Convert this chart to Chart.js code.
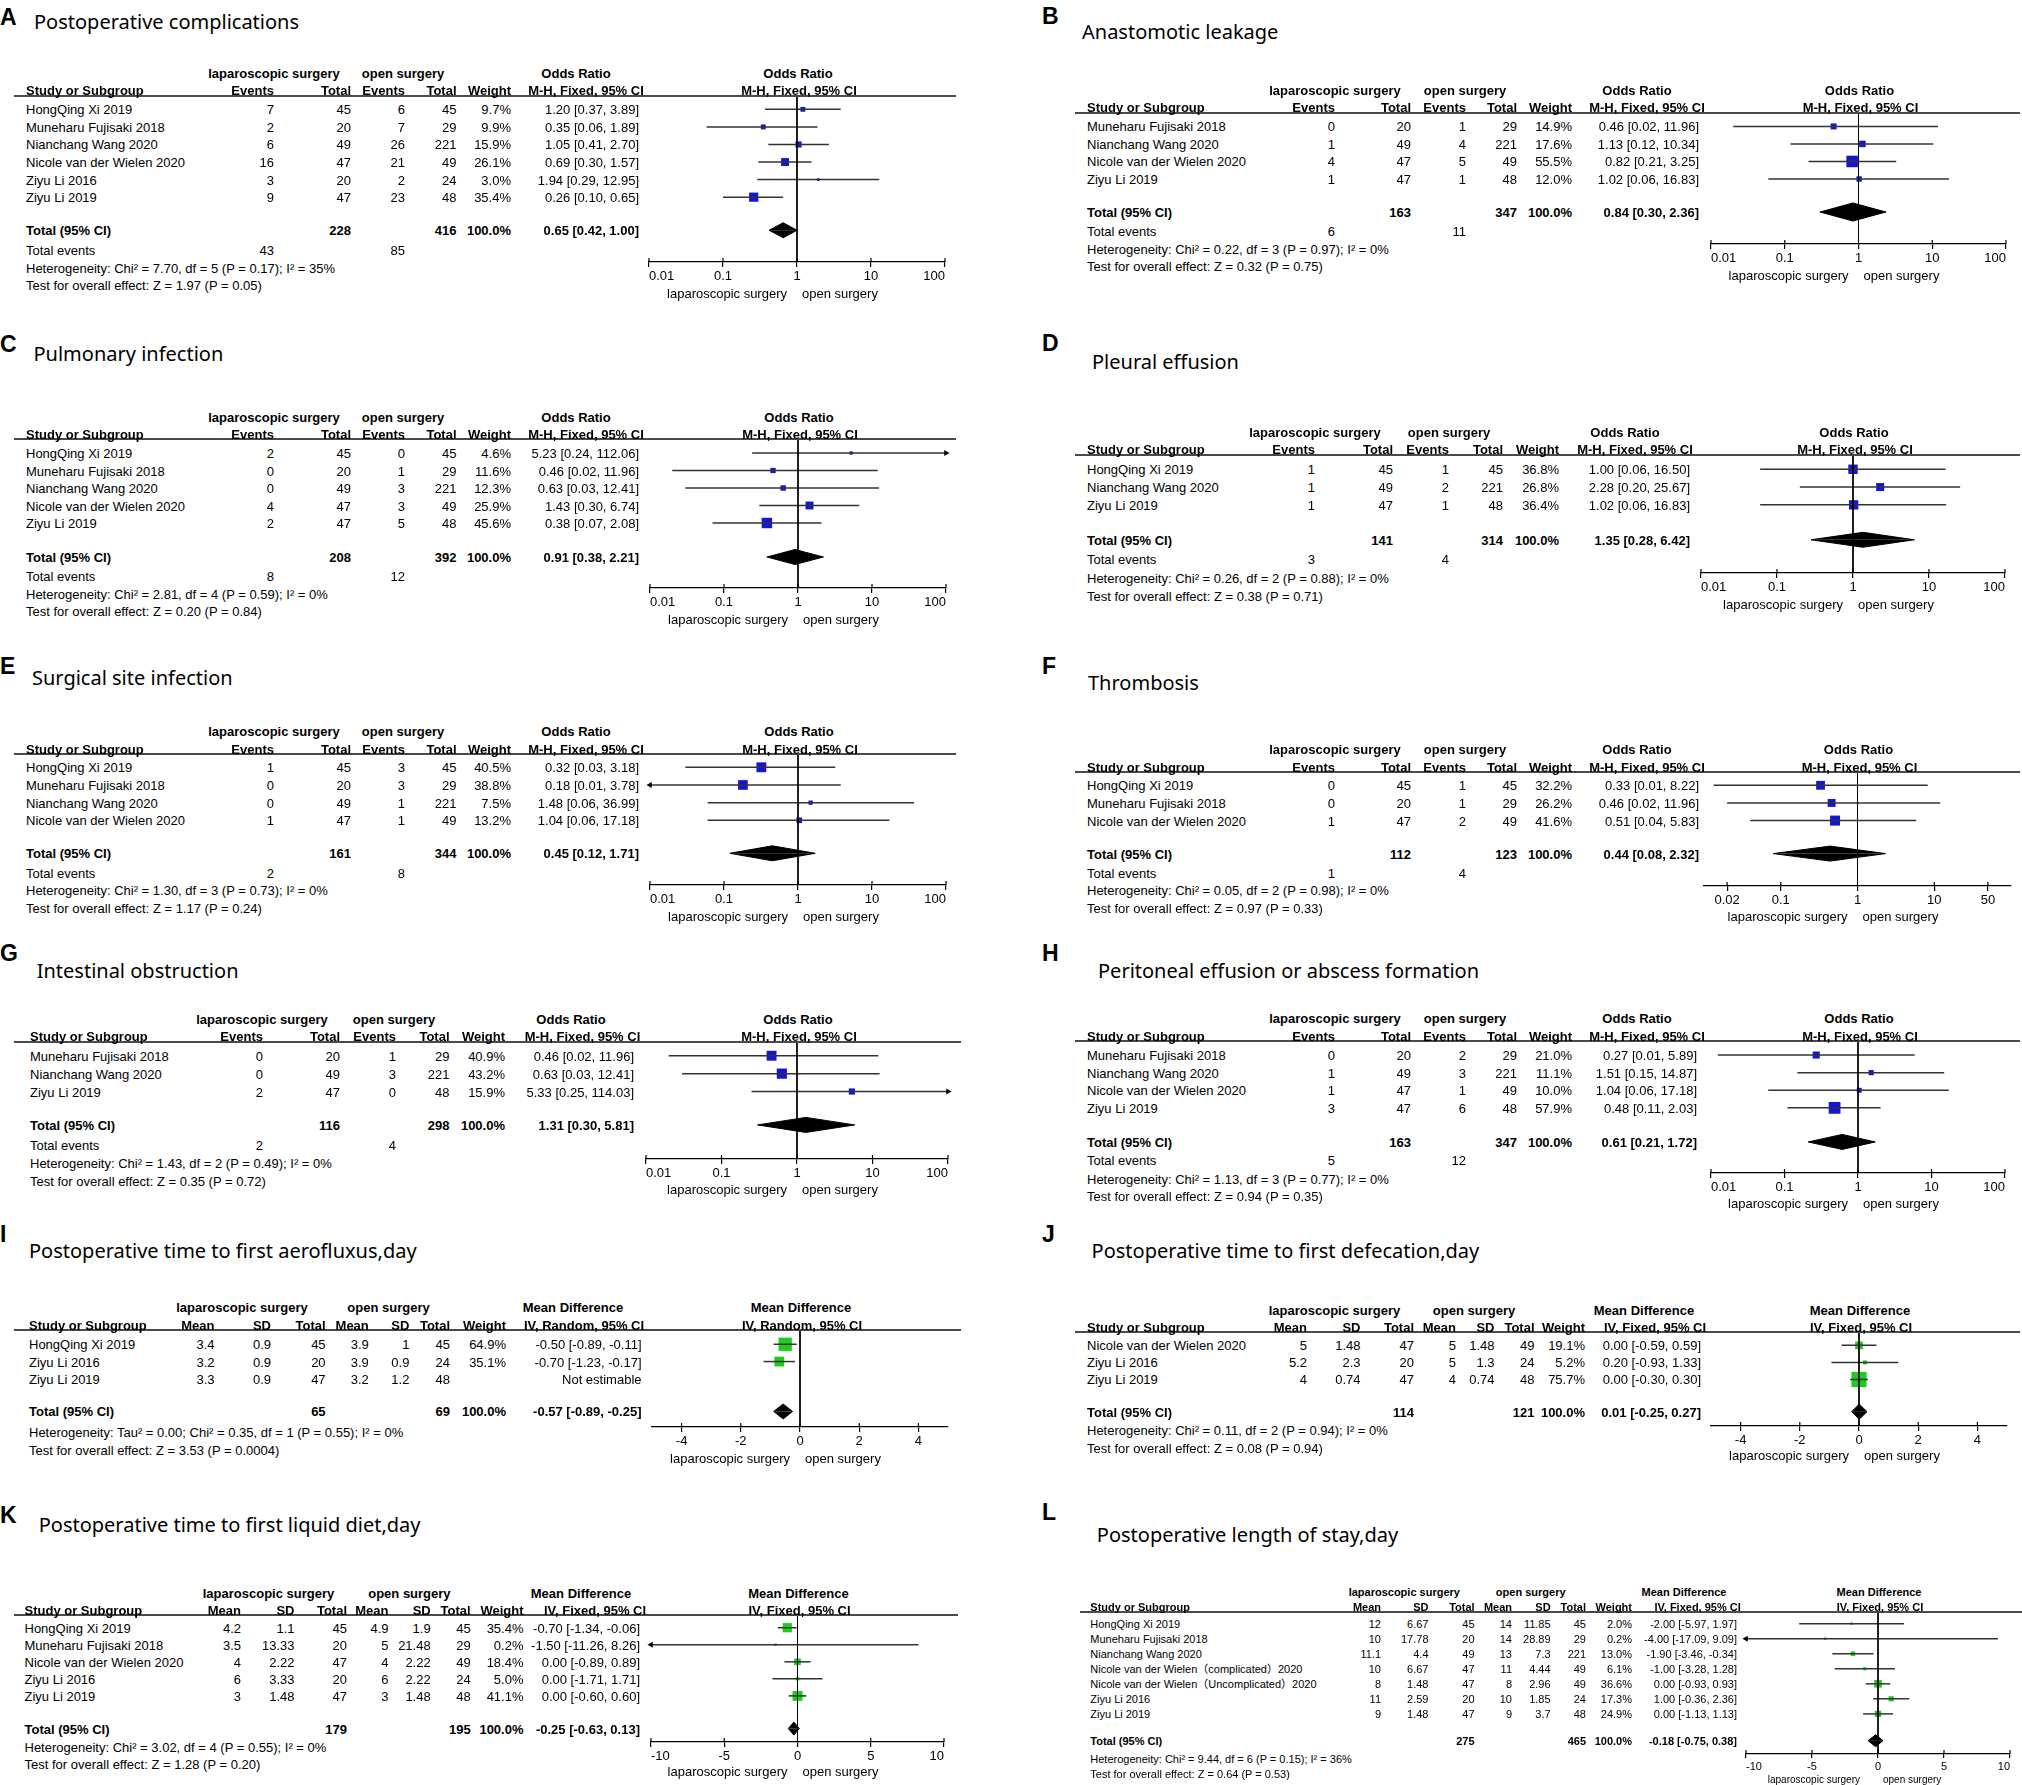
<!DOCTYPE html>
<html><head><meta charset="utf-8">
<script src="https://cdn.jsdelivr.net/npm/chart.js@4.4.0/dist/chart.umd.min.js"></script>
<style>
html,body{margin:0;padding:0;background:#fff;}
#page{position:relative;width:2022px;height:1785px;overflow:hidden;background:#fff;font-family:"Liberation Sans",Arial,"Noto Sans CJK SC",sans-serif;color:#000;}
.t{position:absolute;white-space:nowrap;line-height:1;}
.l{transform:translate(0,-50%);} .r{transform:translate(-100%,-50%);} .c{transform:translate(-50%,-50%);}
canvas{position:absolute;}
.hl{position:absolute;height:2px;background:#4a4a4a;}
</style></head>
<body><div id="page"></div>
<script>
// ================= DATA =================
const OR_ticks = [0.01, 0.1, 1, 10, 100];
const OR_tickLabels = ["0.01", "0.1", "1", "10", "100"];
const F_ticks = [0.02, 0.1, 1, 10, 50];
const F_tickLabels = ["0.02", "0.1", "1", "10", "50"];
const MD5_ticks = [-4, -2, 0, 2, 4];
const MD5_tickLabels = ["-4", "-2", "0", "2", "4"];
const MD10_ticks = [-10, -5, 0, 5, 10];
const MD10_tickLabels = ["-10", "-5", "0", "5", "10"];

// A Postoperative complications
const A_studies = ["HongQing Xi 2019","Muneharu Fujisaki 2018","Nianchang Wang 2020","Nicole van der Wielen 2020","Ziyu Li 2016","Ziyu Li 2019"];
const A_lapEvents = [7,2,6,16,3,9];
const A_lapTotal = [45,20,49,47,20,47];
const A_openEvents = [6,7,26,21,2,23];
const A_openTotal = [45,29,221,49,24,48];
const A_weight = [9.7,9.9,15.9,26.1,3.0,35.4];
const A_or = [1.20,0.35,1.05,0.69,1.94,0.26];
const A_lo = [0.37,0.06,0.41,0.30,0.29,0.10];
const A_hi = [3.89,1.89,2.70,1.57,12.95,0.65];
const A_totals = [228,416];
const A_totalEvents = [43,85];
const A_pooled = [0.65,0.42,1.00];
const A_het = "Heterogeneity: Chi² = 7.70, df = 5 (P = 0.17); I² = 35%";
const A_test = "Test for overall effect: Z = 1.97 (P = 0.05)";

// B Anastomotic leakage
const B_studies = ["Muneharu Fujisaki 2018","Nianchang Wang 2020","Nicole van der Wielen 2020","Ziyu Li 2019"];
const B_lapEvents = [0,1,4,1];
const B_lapTotal = [20,49,47,47];
const B_openEvents = [1,4,5,1];
const B_openTotal = [29,221,49,48];
const B_weight = [14.9,17.6,55.5,12.0];
const B_or = [0.46,1.13,0.82,1.02];
const B_lo = [0.02,0.12,0.21,0.06];
const B_hi = [11.96,10.34,3.25,16.83];
const B_totals = [163,347];
const B_totalEvents = [6,11];
const B_pooled = [0.84,0.30,2.36];
const B_het = "Heterogeneity: Chi² = 0.22, df = 3 (P = 0.97); I² = 0%";
const B_test = "Test for overall effect: Z = 0.32 (P = 0.75)";

// C Pulmonary infection
const C_studies = ["HongQing Xi 2019","Muneharu Fujisaki 2018","Nianchang Wang 2020","Nicole van der Wielen 2020","Ziyu Li 2019"];
const C_lapEvents = [2,0,0,4,2];
const C_lapTotal = [45,20,49,47,47];
const C_openEvents = [0,1,3,3,5];
const C_openTotal = [45,29,221,49,48];
const C_weight = [4.6,11.6,12.3,25.9,45.6];
const C_or = [5.23,0.46,0.63,1.43,0.38];
const C_lo = [0.24,0.02,0.03,0.30,0.07];
const C_hi = [112.06,11.96,12.41,6.74,2.08];
const C_totals = [208,392];
const C_totalEvents = [8,12];
const C_pooled = [0.91,0.38,2.21];
const C_het = "Heterogeneity: Chi² = 2.81, df = 4 (P = 0.59); I² = 0%";
const C_test = "Test for overall effect: Z = 0.20 (P = 0.84)";

// D Pleural effusion
const D_studies = ["HongQing Xi 2019","Nianchang Wang 2020","Ziyu Li 2019"];
const D_lapEvents = [1,1,1];
const D_lapTotal = [45,49,47];
const D_openEvents = [1,2,1];
const D_openTotal = [45,221,48];
const D_weight = [36.8,26.8,36.4];
const D_or = [1.00,2.28,1.02];
const D_lo = [0.06,0.20,0.06];
const D_hi = [16.50,25.67,16.83];
const D_totals = [141,314];
const D_totalEvents = [3,4];
const D_pooled = [1.35,0.28,6.42];
const D_het = "Heterogeneity: Chi² = 0.26, df = 2 (P = 0.88); I² = 0%";
const D_test = "Test for overall effect: Z = 0.38 (P = 0.71)";

// E Surgical site infection
const E_studies = ["HongQing Xi 2019","Muneharu Fujisaki 2018","Nianchang Wang 2020","Nicole van der Wielen 2020"];
const E_lapEvents = [1,0,0,1];
const E_lapTotal = [45,20,49,47];
const E_openEvents = [3,3,1,1];
const E_openTotal = [45,29,221,49];
const E_weight = [40.5,38.8,7.5,13.2];
const E_or = [0.32,0.18,1.48,1.04];
const E_lo = [0.03,0.0086,0.06,0.06];
const E_hi = [3.18,3.78,36.99,17.18];
const E_totals = [161,344];
const E_totalEvents = [2,8];
const E_pooled = [0.45,0.12,1.71];
const E_het = "Heterogeneity: Chi² = 1.30, df = 3 (P = 0.73); I² = 0%";
const E_test = "Test for overall effect: Z = 1.17 (P = 0.24)";

// F Thrombosis
const F_studies = ["HongQing Xi 2019","Muneharu Fujisaki 2018","Nicole van der Wielen 2020"];
const F_lapEvents = [0,0,1];
const F_lapTotal = [45,20,47];
const F_openEvents = [1,1,2];
const F_openTotal = [45,29,49];
const F_weight = [32.2,26.2,41.6];
const F_or = [0.33,0.46,0.51];
const F_lo = [0.0133,0.02,0.04];
const F_hi = [8.22,11.96,5.83];
const F_totals = [112,123];
const F_totalEvents = [1,4];
const F_pooled = [0.44,0.08,2.32];
const F_het = "Heterogeneity: Chi² = 0.05, df = 2 (P = 0.98); I² = 0%";
const F_test = "Test for overall effect: Z = 0.97 (P = 0.33)";

// G Intestinal obstruction
const G_studies = ["Muneharu Fujisaki 2018","Nianchang Wang 2020","Ziyu Li 2019"];
const G_lapEvents = [0,0,2];
const G_lapTotal = [20,49,47];
const G_openEvents = [1,3,0];
const G_openTotal = [29,221,48];
const G_weight = [40.9,43.2,15.9];
const G_or = [0.46,0.63,5.33];
const G_lo = [0.02,0.03,0.25];
const G_hi = [11.96,12.41,114.03];
const G_totals = [116,298];
const G_totalEvents = [2,4];
const G_pooled = [1.31,0.30,5.81];
const G_het = "Heterogeneity: Chi² = 1.43, df = 2 (P = 0.49); I² = 0%";
const G_test = "Test for overall effect: Z = 0.35 (P = 0.72)";

// H Peritoneal effusion or abscess formation
const H_studies = ["Muneharu Fujisaki 2018","Nianchang Wang 2020","Nicole van der Wielen 2020","Ziyu Li 2019"];
const H_lapEvents = [0,1,1,3];
const H_lapTotal = [20,49,47,47];
const H_openEvents = [2,3,1,6];
const H_openTotal = [29,221,49,48];
const H_weight = [21.0,11.1,10.0,57.9];
const H_or = [0.27,1.51,1.04,0.48];
const H_lo = [0.0124,0.15,0.06,0.11];
const H_hi = [5.89,14.87,17.18,2.03];
const H_totals = [163,347];
const H_totalEvents = [5,12];
const H_pooled = [0.61,0.21,1.72];
const H_het = "Heterogeneity: Chi² = 1.13, df = 3 (P = 0.77); I² = 0%";
const H_test = "Test for overall effect: Z = 0.94 (P = 0.35)";

// I Postoperative time to first aerofluxus
const I_studies = ["HongQing Xi 2019","Ziyu Li 2016","Ziyu Li 2019"];
const I_lapMean = [3.4,3.2,3.3];
const I_lapSD = [0.9,0.9,0.9];
const I_lapTotal = [45,20,47];
const I_openMean = [3.9,3.9,3.2];
const I_openSD = [1,0.9,1.2];
const I_openTotal = [45,24,48];
const I_weight = [64.9,35.1,null];
const I_md = [-0.50,-0.70,null];
const I_lo = [-0.89,-1.23,null];
const I_hi = [-0.11,-0.17,null];
const I_totals = [65,69];
const I_pooled = [-0.57,-0.89,-0.25];
const I_het = "Heterogeneity: Tau² = 0.00; Chi² = 0.35, df = 1 (P = 0.55); I² = 0%";
const I_test = "Test for overall effect: Z = 3.53 (P = 0.0004)";

// J Postoperative time to first defecation
const J_studies = ["Nicole van der Wielen 2020","Ziyu Li 2016","Ziyu Li 2019"];
const J_lapMean = [5,5.2,4];
const J_lapSD = [1.48,2.3,0.74];
const J_lapTotal = [47,20,47];
const J_openMean = [5,5,4];
const J_openSD = [1.48,1.3,0.74];
const J_openTotal = [49,24,48];
const J_weight = [19.1,5.2,75.7];
const J_md = [0.00,0.20,0.00];
const J_lo = [-0.59,-0.93,-0.30];
const J_hi = [0.59,1.33,0.30];
const J_totals = [114,121];
const J_pooled = [0.01,-0.25,0.27];
const J_het = "Heterogeneity: Chi² = 0.11, df = 2 (P = 0.94); I² = 0%";
const J_test = "Test for overall effect: Z = 0.08 (P = 0.94)";

// K Postoperative time to first liquid diet
const K_studies = ["HongQing Xi 2019","Muneharu Fujisaki 2018","Nicole van der Wielen 2020","Ziyu Li 2016","Ziyu Li 2019"];
const K_lapMean = [4.2,3.5,4,6,3];
const K_lapSD = [1.1,13.33,2.22,3.33,1.48];
const K_lapTotal = [45,20,47,20,47];
const K_openMean = [4.9,5,4,6,3];
const K_openSD = [1.9,21.48,2.22,2.22,1.48];
const K_openTotal = [45,29,49,24,48];
const K_weight = [35.4,0.2,18.4,5.0,41.1];
const K_md = [-0.70,-1.50,0.00,0.00,0.00];
const K_lo = [-1.34,-11.26,-0.89,-1.71,-0.60];
const K_hi = [-0.06,8.26,0.89,1.71,0.60];
const K_totals = [179,195];
const K_pooled = [-0.25,-0.63,0.13];
const K_het = "Heterogeneity: Chi² = 3.02, df = 4 (P = 0.55); I² = 0%";
const K_test = "Test for overall effect: Z = 1.28 (P = 0.20)";

// L Postoperative length of stay
const L_studies = ["HongQing Xi 2019","Muneharu Fujisaki 2018","Nianchang Wang 2020","Nicole van der Wielen（complicated）2020","Nicole van der Wielen（Uncomplicated）2020","Ziyu Li 2016","Ziyu Li 2019"];
const L_lapMean = [12,10,11.1,10,8,11,9];
const L_lapSD = [6.67,17.78,4.4,6.67,1.48,2.59,1.48];
const L_lapTotal = [45,20,49,47,47,20,47];
const L_openMean = [14,14,13,11,8,10,9];
const L_openSD = [11.85,28.89,7.3,4.44,2.96,1.85,3.7];
const L_openTotal = [45,29,221,49,49,24,48];
const L_weight = [2.0,0.2,13.0,6.1,36.6,17.3,24.9];
const L_md = [-2.00,-4.00,-1.90,-1.00,0.00,1.00,0.00];
const L_lo = [-5.97,-17.09,-3.46,-3.28,-0.93,-0.36,-1.13];
const L_hi = [1.97,9.09,-0.34,1.28,0.93,2.36,1.13];
const L_totals = [275,465];
const L_pooled = [-0.18,-0.75,0.38];
const L_het = "Heterogeneity: Chi² = 9.44, df = 6 (P = 0.15); I² = 36%";
const L_test = "Test for overall effect: Z = 0.64 (P = 0.53)";

// ================= LAYOUT =================
const layA = {studyX:26, colR:[274,351,405,456.5,511,639], lapC:274, openC:403, headC:576, subC:586, lineX0:14, lineX1:956};
const layB = {studyX:1087, colR:[1335,1411,1466,1517,1572,1699], lapC:1335, openC:1465, headC:1637, subC:1647, lineX0:1075, lineX1:2020};

const panels = [
 {letter:'A', title:'Postoperative complications', lx:0, ly:16.5, tx:34, ty:21.7, kind:'OR',
  studies:A_studies, cols:[A_lapEvents,A_lapTotal,A_openEvents,A_openTotal], weight:A_weight, est:A_or, lo:A_lo, hi:A_hi,
  totals:A_totals, totalEvents:A_totalEvents, pooled:A_pooled, het:A_het, test:A_test, method:'M-H, Fixed, 95% CI',
  xtype:'logarithmic', xmin:0.01, xmax:100, nullV:1, ticks:OR_ticks, tickLabels:OR_tickLabels, tickAlign:'inner',
  L:Object.assign({}, layA, {plotL:649, plotR:944.5, lineY:96, row0Y:109.3, pitch:17.54, totalY:230, teY:249.3, hetY:267.7, testY:285, axisY:261.7, h1Y:72.7, h2Y:90, labelY:292.3})},
 {letter:'B', title:'Anastomotic leakage', lx:1042, ly:15.5, tx:1082, ty:31.7, kind:'OR',
  studies:B_studies, cols:[B_lapEvents,B_lapTotal,B_openEvents,B_openTotal], weight:B_weight, est:B_or, lo:B_lo, hi:B_hi,
  totals:B_totals, totalEvents:B_totalEvents, pooled:B_pooled, het:B_het, test:B_test, method:'M-H, Fixed, 95% CI',
  xtype:'logarithmic', xmin:0.01, xmax:100, nullV:1, ticks:OR_ticks, tickLabels:OR_tickLabels, tickAlign:'inner',
  L:Object.assign({}, layB, {plotL:1710.5, plotR:2005.2, lineY:113.3, row0Y:126.7, pitch:17.53, totalY:212.3, teY:231.7, hetY:249.3, testY:266.7, axisY:244.3, h1Y:90, h2Y:107.3, labelY:275, dh:9})},
 {letter:'C', title:'Pulmonary infection', lx:0, ly:343.5, tx:33.5, ty:354, kind:'OR',
  studies:C_studies, cols:[C_lapEvents,C_lapTotal,C_openEvents,C_openTotal], weight:C_weight, est:C_or, lo:C_lo, hi:C_hi,
  totals:C_totals, totalEvents:C_totalEvents, pooled:C_pooled, het:C_het, test:C_test, method:'M-H, Fixed, 95% CI',
  xtype:'logarithmic', xmin:0.01, xmax:100, nullV:1, ticks:OR_ticks, tickLabels:OR_tickLabels, tickAlign:'inner',
  L:Object.assign({}, layA, {plotL:650, plotR:946, lineY:439.3, row0Y:453.3, pitch:17.5, totalY:557.3, teY:576, hetY:594, testY:611.7, axisY:588.3, h1Y:417.3, h2Y:434.7, labelY:619})},
 {letter:'D', title:'Pleural effusion', lx:1042, ly:342.5, tx:1092, ty:362.3, kind:'OR',
  studies:D_studies, cols:[D_lapEvents,D_lapTotal,D_openEvents,D_openTotal], weight:D_weight, est:D_or, lo:D_lo, hi:D_hi,
  totals:D_totals, totalEvents:D_totalEvents, pooled:D_pooled, het:D_het, test:D_test, method:'M-H, Fixed, 95% CI',
  xtype:'logarithmic', xmin:0.01, xmax:100, nullV:1, ticks:OR_ticks, tickLabels:OR_tickLabels, tickAlign:'inner',
  L:{studyX:1087, colR:[1315,1393,1449,1503,1559,1690], lapC:1315, openC:1449, headC:1625, subC:1635, lineX0:1075, lineX1:2020,
     plotL:1701, plotR:2005, lineY:455, row0Y:469.3, pitch:17.85, totalY:540, teY:559.3, hetY:578.3, testY:596, axisY:573.3, h1Y:431.7, h2Y:449.3, labelY:604}},
 {letter:'E', title:'Surgical site infection', lx:0, ly:665.5, tx:32, ty:678.3, kind:'OR',
  studies:E_studies, cols:[E_lapEvents,E_lapTotal,E_openEvents,E_openTotal], weight:E_weight, est:E_or, lo:E_lo, hi:E_hi,
  totals:E_totals, totalEvents:E_totalEvents, pooled:E_pooled, het:E_het, test:E_test, method:'M-H, Fixed, 95% CI',
  xtype:'logarithmic', xmin:0.01, xmax:100, nullV:1, ticks:OR_ticks, tickLabels:OR_tickLabels, tickAlign:'inner',
  L:Object.assign({}, layA, {plotL:650, plotR:946, lineY:754, row0Y:767.3, pitch:17.67, totalY:853.3, teY:872.7, hetY:890, testY:907.7, axisY:885, h1Y:731, h2Y:748.7, labelY:915.7})},
 {letter:'F', title:'Thrombosis', lx:1042, ly:665.5, tx:1088, ty:683.3, kind:'OR',
  studies:F_studies, cols:[F_lapEvents,F_lapTotal,F_openEvents,F_openTotal], weight:F_weight, est:F_or, lo:F_lo, hi:F_hi,
  totals:F_totals, totalEvents:F_totalEvents, pooled:F_pooled, het:F_het, test:F_test, method:'M-H, Fixed, 95% CI',
  xtype:'logarithmic', xmin:0.01, xmax:100, nullV:1, ticks:F_ticks, tickLabels:F_tickLabels, tickAlign:'center',
  L:Object.assign({}, layB, {plotL:1704, plotR:2011, lineY:771.7, row0Y:785, pitch:17.65, totalY:853.3, teY:872.7, hetY:890, testY:907.7, axisY:885.7, h1Y:749, h2Y:766.3, labelY:915.7})},
 {letter:'G', title:'Intestinal obstruction', lx:0, ly:953, tx:36.7, ty:970.7, kind:'OR',
  studies:G_studies, cols:[G_lapEvents,G_lapTotal,G_openEvents,G_openTotal], weight:G_weight, est:G_or, lo:G_lo, hi:G_hi,
  totals:G_totals, totalEvents:G_totalEvents, pooled:G_pooled, het:G_het, test:G_test, method:'M-H, Fixed, 95% CI',
  xtype:'logarithmic', xmin:0.01, xmax:100, nullV:1, ticks:OR_ticks, tickLabels:OR_tickLabels, tickAlign:'inner',
  L:{studyX:30, colR:[263,340,396,449.5,505,634], lapC:262, openC:394, headC:571, subC:582.5, lineX0:14, lineX1:961,
     plotL:646, plotR:948, lineY:1042.3, row0Y:1056, pitch:17.85, totalY:1125, teY:1145, hetY:1162.7, testY:1180.7, axisY:1159, h1Y:1019, h2Y:1036.7, labelY:1189}},
 {letter:'H', title:'Peritoneal effusion or abscess formation', lx:1042, ly:953, tx:1098, ty:970.7, kind:'OR',
  studies:H_studies, cols:[H_lapEvents,H_lapTotal,H_openEvents,H_openTotal], weight:H_weight, est:H_or, lo:H_lo, hi:H_hi,
  totals:H_totals, totalEvents:H_totalEvents, pooled:H_pooled, het:H_het, test:H_test, method:'M-H, Fixed, 95% CI',
  xtype:'logarithmic', xmin:0.01, xmax:100, nullV:1, ticks:OR_ticks, tickLabels:OR_tickLabels, tickAlign:'inner',
  L:Object.assign({}, layB, {colR:[1335,1411,1466,1517,1572,1697], plotL:1710.5, plotR:2004.5, lineY:1041, row0Y:1055, pitch:17.57, totalY:1141.7, teY:1160, hetY:1178.3, testY:1196, axisY:1172.7, h1Y:1018.3, h2Y:1036, labelY:1202.3})},
 {letter:'I', title:'Postoperative time to first aerofluxus,day', lx:0, ly:1234, tx:29, ty:1250.7, kind:'MD',
  studies:I_studies, cols:[I_lapMean,I_lapSD,I_lapTotal,I_openMean,I_openSD,I_openTotal], weight:I_weight, est:I_md, lo:I_lo, hi:I_hi,
  totals:I_totals, pooled:I_pooled, het:I_het, test:I_test, method:'IV, Random, 95% CI',
  xtype:'linear', xmin:-5, xmax:5, nullV:0, ticks:MD5_ticks, tickLabels:MD5_tickLabels, tickAlign:'center',
  L:{studyX:29, colR:[214.5,271,325.6,368.8,409.4,450,506,641.5], lapC:242, openC:388.5, headC:573, subC:584, lineX0:14, lineX1:961,
     plotL:651.5, plotR:947.5, lineY:1330, row0Y:1344.3, pitch:17.35, totalY:1411.7, hetY:1432.7, testY:1450, axisY:1427.3, h1Y:1307.3, h2Y:1325, labelY:1458.3, k:1.65}},
 {letter:'J', title:'Postoperative time to first defecation,day', lx:1042, ly:1234, tx:1091.6, ty:1250.7, kind:'MD',
  studies:J_studies, cols:[J_lapMean,J_lapSD,J_lapTotal,J_openMean,J_openSD,J_openTotal], weight:J_weight, est:J_md, lo:J_lo, hi:J_hi,
  totals:J_totals, pooled:J_pooled, het:J_het, test:J_test, method:'IV, Fixed, 95% CI',
  xtype:'linear', xmin:-5, xmax:5, nullV:0, ticks:MD5_ticks, tickLabels:MD5_tickLabels, tickAlign:'center',
  L:{studyX:1087, colR:[1307,1360.5,1414,1456,1494.5,1534.5,1585,1701], lapC:1334.5, openC:1474, headC:1644, subC:1655, lineX0:1075, lineX1:2020,
     plotL:1711, plotR:2007, lineY:1332.3, row0Y:1345.7, pitch:17.15, totalY:1412.3, hetY:1431, testY:1448.7, axisY:1426.7, h1Y:1310, h2Y:1327.3, labelY:1456, k:1.75}},
 {letter:'K', title:'Postoperative time to first liquid diet,day', lx:0, ly:1514.5, tx:38.7, ty:1525, kind:'MD',
  studies:K_studies, cols:[K_lapMean,K_lapSD,K_lapTotal,K_openMean,K_openSD,K_openTotal], weight:K_weight, est:K_md, lo:K_lo, hi:K_hi,
  totals:K_totals, pooled:K_pooled, het:K_het, test:K_test, method:'IV, Fixed, 95% CI',
  xtype:'linear', xmin:-10, xmax:10, nullV:0, ticks:MD10_ticks, tickLabels:MD10_tickLabels, tickAlign:'inner',
  L:{studyX:24.5, colR:[241,294.5,347,388.5,430.7,470.7,523.5,640], lapC:268.5, openC:409.4, headC:581, subC:595, lineX0:14, lineX1:958,
     plotL:651.2, plotR:944.5, lineY:1615, row0Y:1627.7, pitch:17, totalY:1728.3, hetY:1746.7, testY:1763.3, axisY:1741.7, h1Y:1593.3, h2Y:1610, labelY:1770.7, dh:6.5}},
 {letter:'L', title:'Postoperative length of stay,day', lx:1042, ly:1512, tx:1096.8, ty:1535, kind:'MD',
  studies:L_studies, cols:[L_lapMean,L_lapSD,L_lapTotal,L_openMean,L_openSD,L_openTotal], weight:L_weight, est:L_md, lo:L_lo, hi:L_hi,
  totals:L_totals, pooled:L_pooled, het:L_het, test:L_test, method:'IV, Fixed, 95% CI',
  xtype:'linear', xmin:-10, xmax:10, nullV:0, ticks:MD10_ticks, tickLabels:MD10_tickLabels, tickAlign:'inner',
  L:{studyX:1090.3, colR:[1381,1428.5,1474.6,1512,1550.6,1586,1632,1737], lapC:1404.3, openC:1530.7, headC:1684, subC:1697.6, lineX0:1080, lineX1:2022,
     plotL:1746, plotR:2010.4, lineY:1611.7, row0Y:1623.3, pitch:15, totalY:1740, hetY:1758.3, testY:1773.3, axisY:1753.3, h1Y:1591.7, h2Y:1606.7, labelY:1779.3, fs:11, axFs:10, k:1.25, lapGap:18, dh:6}}
];

// ================= RENDER =================
const FONTF = '"Liberation Sans", Arial, sans-serif';
const page = document.getElementById('page');
function txt(s, x, y, align, opt) {
  opt = opt || {};
  const d = document.createElement('div');
  d.className = 't ' + align;
  d.textContent = s;
  d.style.left = x + 'px';
  d.style.top = y + 'px';
  d.style.fontSize = (opt.size || 13) + 'px';
  if (opt.bold) d.style.fontWeight = 'bold';
  if (opt.family) d.style.fontFamily = opt.family;
  page.appendChild(d);
}
const tickStubs = {
  id: 'tickStubs',
  afterDraw(chart) {
    const s = chart.scales.x, ctx = chart.ctx, b = chart.chartArea.bottom;
    ctx.save(); ctx.strokeStyle = '#000'; ctx.lineWidth = 1.2;
    s.ticks.forEach(t => { const x = s.getPixelForValue(t.value); ctx.beginPath(); ctx.moveTo(x, b - 4); ctx.lineTo(x, b); ctx.stroke(); });
    ctx.restore();
  }
};
const f2 = v => v.toFixed(2);
const ciStr = (e, l, h) => f2(e) + ' [' + f2(l) + ', ' + f2(h) + ']';

function build(p) {
  const Lo = p.L, fs = Lo.fs || 13, axFs = Lo.axFs || 13, k = Lo.k || 1.55;
  const isOR = p.kind === 'OR';
  txt(p.letter, p.lx, p.ly, 'l', {size:23, bold:true});
  txt(p.title, p.tx, p.ty, 'l', {size:20, family:'"Noto Sans", "Liberation Sans", sans-serif'});

  const toRow = Yp => (Yp - Lo.row0Y) / Lo.pitch;
  const yMin = toRow(Lo.lineY), yMax = toRow(Lo.axisY), tRow = toRow(Lo.totalY);
  const padL = 40, padR = 40, padT = 10, padB = 4, axisH = 26;
  const left = Math.round(Lo.plotL) - padL;
  const top = Math.round(Lo.lineY) - padT;
  const W = Math.round(Lo.plotR - Lo.plotL) + padL + padR;
  const H = padT + Math.round(Lo.axisY - Lo.lineY) + axisH + padB;
  const cv = document.createElement('canvas');
  cv.width = W; cv.height = H;
  cv.style.left = left + 'px'; cv.style.top = top + 'px';
  cv.style.width = W + 'px'; cv.style.height = H + 'px';
  page.appendChild(cv);

  const color = isOR ? '#1616d0' : '#1fcb1f';
  const ds = [];
  ds.push({data:[{x:p.nullV, y:yMin}, {x:p.nullV, y:yMax}], borderColor:'#000', borderWidth:1, pointRadius:0, showLine:true, fill:false, clip:false});
  p.studies.forEach((s, i) => {
    if (p.est[i] == null) return;
    const la = p.lo[i] < p.xmin, ra = p.hi[i] > p.xmax;
    const lo = Math.max(p.lo[i], p.xmin), hi = Math.min(p.hi[i], p.xmax);
    ds.push({data:[{x:lo, y:i}, {x:hi, y:i}], borderColor:'#333', borderWidth:1.5, showLine:true, fill:false, clip:false,
      pointStyle:'triangle', pointRadius:[la ? 3.5 : 0, ra ? 3.5 : 0], pointRotation:[-90, 90],
      pointBackgroundColor:'#000', pointBorderColor:'#000', pointBorderWidth:0});
  });
  const sq = [], rad = [];
  p.studies.forEach((s, i) => {
    if (p.est[i] == null) return;
    sq.push({x:p.est[i], y:i});
    rad.push(Math.max(2.5, k * Math.sqrt(p.weight[i])) / Math.SQRT2);
  });
  ds.push({data:sq, showLine:false, pointStyle:'rect', pointRadius:rad, pointBackgroundColor:color, pointBorderColor:color, pointBorderWidth:0, clip:false});
  const [pe, pl, ph] = p.pooled;
  const dh = (Lo.dh || 7.5) / Lo.pitch;
  [-dh, dh].forEach(d => {
    ds.push({data:[{x:pl, y:tRow}, {x:pe, y:tRow + d}, {x:ph, y:tRow}], showLine:true, borderColor:'#000', borderWidth:1,
      backgroundColor:'#000', fill:{value:tRow}, pointRadius:0, clip:false});
  });

  const ch = new Chart(cv, {
    type:'line',
    data:{datasets:ds},
    options:{
      responsive:false, animation:false, events:[],
      layout:{padding:{left:padL, right:padR, top:padT, bottom:padB}, autoPadding:false},
      plugins:{legend:{display:false}, tooltip:{enabled:false}},
      scales:{
        x:{type:p.xtype, min:p.xmin, max:p.xmax, position:'bottom',
           border:{display:true, color:'#000', width:1.2},
           grid:{display:true, drawOnChartArea:false, drawTicks:true, tickLength:(fs < 13 ? 4 : 5), color:'#000', lineWidth:1.2},
           ticks:{color:'#000', font:{family:FONTF, size:fs}, padding:2, autoSkip:false, maxRotation:0, minRotation:0, align:p.tickAlign,
                  callback:(v, i) => p.tickLabels[i]},
           afterBuildTicks:s => { s.ticks = p.ticks.map(v => ({value:v})); },
           afterFit:s => { s.height = axisH; }},
        y:{type:'linear', display:false, reverse:true, min:yMin, max:yMax}
      }
    },
    plugins:[tickStubs]
  });

  const ys = ch.scales.y, xs = ch.scales.x;
  const Y = Yp => top + ys.getPixelForValue(toRow(Yp));
  const YR = r => top + ys.getPixelForValue(r);
  const nullPx = left + xs.getPixelForValue(p.nullV);
  const c = Lo.colR;

  const hl = document.createElement('div');
  hl.className = 'hl';
  const ly = YR(yMin);
  hl.style.left = Lo.lineX0 + 'px'; hl.style.width = (Lo.lineX1 - Lo.lineX0) + 'px'; hl.style.top = (ly - 1) + 'px';
  page.appendChild(hl);

  const effect = isOR ? 'Odds Ratio' : 'Mean Difference';
  const b = {size:fs, bold:true}, n = {size:fs};
  const h1 = Y(Lo.h1Y), h2 = Y(Lo.h2Y);
  txt('laparoscopic surgery', Lo.lapC, h1, 'c', b);
  txt('open surgery', Lo.openC, h1, 'c', b);
  txt(effect, Lo.headC, h1, 'c', b);
  txt(effect, nullPx + 1, h1, 'c', b);
  txt('Study or Subgroup', Lo.studyX, h2, 'l', b);
  const hdr = isOR ? ['Events','Total','Events','Total','Weight'] : ['Mean','SD','Total','Mean','SD','Total','Weight'];
  hdr.forEach((h, j) => txt(h, c[j], h2, 'r', b));
  txt(p.method, Lo.subC, h2, 'c', b);
  txt(p.method, nullPx + 2, h2, 'c', b);

  const nc = p.cols.length;
  p.studies.forEach((s, i) => {
    const y = YR(i);
    txt(s, Lo.studyX, y, 'l', n);
    p.cols.forEach((arr, j) => txt(String(arr[i]), c[j], y, 'r', n));
    if (p.est[i] == null) {
      txt('Not estimable', c[nc + 1], y, 'r', n);
    } else {
      txt(p.weight[i].toFixed(1) + '%', c[nc], y, 'r', n);
      txt(ciStr(p.est[i], p.lo[i], p.hi[i]), c[nc + 1], y, 'r', n);
    }
  });
  const ty = YR(tRow);
  txt('Total (95% CI)', Lo.studyX, ty, 'l', b);
  const totIdx = isOR ? [1, 3] : [2, 5];
  txt(String(p.totals[0]), c[totIdx[0]], ty, 'r', b);
  txt(String(p.totals[1]), c[totIdx[1]], ty, 'r', b);
  txt('100.0%', c[nc], ty, 'r', b);
  txt(ciStr(pe, pl, ph), c[nc + 1], ty, 'r', b);
  if (isOR) {
    const te = Y(Lo.teY);
    txt('Total events', Lo.studyX, te, 'l', n);
    txt(String(p.totalEvents[0]), c[0], te, 'r', n);
    txt(String(p.totalEvents[1]), c[2], te, 'r', n);
  }
  txt(p.het, Lo.studyX, Y(Lo.hetY), 'l', n);
  txt(p.test, Lo.studyX, Y(Lo.testY), 'l', n);
  const lab = Y(Lo.labelY);
  txt('laparoscopic surgery', nullPx - (Lo.lapGap || 10), lab, 'r', {size:axFs});
  txt('open surgery', nullPx + 5, lab, 'l', {size:axFs});
}
panels.forEach(build);
</script>
</body></html>
